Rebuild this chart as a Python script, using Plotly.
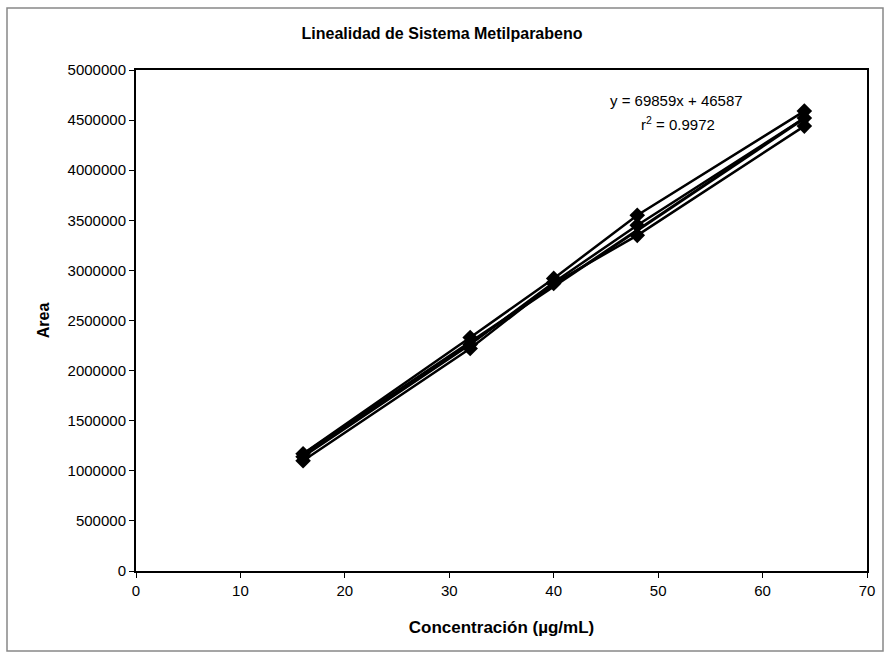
import plotly.graph_objects as go

# Data
concentracion = [16, 32, 40, 48, 64]
area_rep1 = [1170000, 2330000, 2920000, 3550000, 4590000]
area_rep2 = [1140000, 2260000, 2880000, 3450000, 4520000]
area_rep3 = [1100000, 2220000, 2870000, 3350000, 4440000]
pendiente = 69859
intercepto = 46587
r2 = 0.9972

titulo = "Linealidad de Sistema Metilparabeno"
x_titulo = "Concentración (µg/mL)"
y_titulo = "Area"

W, H = 886, 660
L, R, T, B = 136, 19, 70, 89

fig = go.Figure()

# trend line
x_tr = [concentracion[0], concentracion[-1]]
y_tr = [pendiente * x + intercepto for x in x_tr]
fig.add_trace(go.Scatter(x=x_tr, y=y_tr, mode="lines",
                         line=dict(color="black", width=3), showlegend=False,
                         hoverinfo="skip"))

for rep in (area_rep1, area_rep2, area_rep3):
    fig.add_trace(go.Scatter(
        x=concentracion, y=rep, mode="lines+markers",
        line=dict(color="black", width=2.5),
        marker=dict(symbol="diamond", size=12, color="black"),
        showlegend=False))

font = "Liberation Sans, Arial, sans-serif"

fig.update_layout(
    width=W, height=H,
    margin=dict(l=L, r=R, t=T, b=B),
    paper_bgcolor="white", plot_bgcolor="white",
    font=dict(family=font, size=15, color="black"),
    title=dict(text="<b>" + titulo + "</b>", x=442 / W, xanchor="center",
               y=1 - 33 / H, yanchor="middle", font=dict(size=16)),
    showlegend=False,
)

fig.update_xaxes(
    range=[0, 70], tickmode="linear", tick0=0, dtick=10,
    showgrid=False, zeroline=False,
    showline=True, linecolor="black", linewidth=2, mirror=True,
    ticks="outside", ticklen=5, tickcolor="black", tickwidth=1,
    tickfont=dict(size=15),
    title=dict(text="<b>" + x_titulo + "</b>", font=dict(size=17), standoff=23),
)
fig.update_yaxes(
    range=[0, 5000000], tickmode="linear", tick0=0, dtick=500000,
    tickformat="d",
    showgrid=False, zeroline=False,
    showline=True, linecolor="black", linewidth=2, mirror=True,
    ticks="outside", ticklen=5, tickcolor="black", tickwidth=1,
    tickfont=dict(size=15),
    title=dict(text="<b>" + y_titulo + "</b>", font=dict(size=16), standoff=14),
)

pw, ph = W - L - R, H - T - B

# equation annotation
fig.add_annotation(xref="paper", yref="paper",
                   x=(676 - L) / pw, y=(H - B - 101) / ph,
                   text="y = %dx + %d" % (pendiente, intercepto),
                   showarrow=False, font=dict(size=15), xanchor="center", yanchor="middle")
fig.add_annotation(xref="paper", yref="paper",
                   x=(678 - L) / pw, y=(H - B - 124) / ph,
                   text="r<sup>2</sup> = %.4f" % r2,
                   showarrow=False, font=dict(size=15), xanchor="center", yanchor="middle")

# outer chart frame
fig.add_shape(type="rect", xref="paper", yref="paper",
              x0=(7 - L) / pw, x1=(883 - L) / pw,
              y0=(H - B - 651) / ph, y1=(H - B - 8) / ph,
              line=dict(color="#888888", width=1.5), layer="below")

fig.write_html("out.html")
